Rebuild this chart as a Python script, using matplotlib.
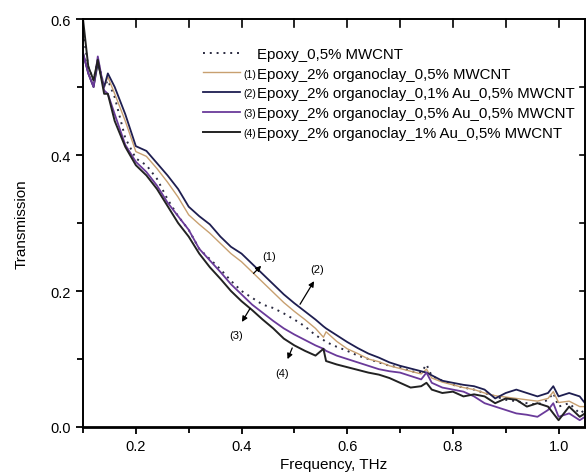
"""Transmission vs frequency for epoxy / organoclay / Au / MWCNT composites."""
import matplotlib

matplotlib.use("Agg")
import matplotlib.pyplot as plt
from matplotlib.ticker import MultipleLocator

plt.rcParams["font.family"] = ["Liberation Sans", "DejaVu Sans"]

# frequency grid (THz)
freq = [0.100, 0.110, 0.120, 0.128, 0.140, 0.147, 0.160, 0.180, 0.200, 0.220,
        0.240, 0.260, 0.280, 0.300, 0.320, 0.340, 0.360, 0.380, 0.400, 0.420,
        0.440, 0.460, 0.480, 0.500, 0.520, 0.540, 0.555, 0.560, 0.580, 0.600,
        0.620, 0.640, 0.660, 0.680, 0.700, 0.720, 0.740, 0.750, 0.760, 0.780,
        0.800, 0.820, 0.840, 0.860, 0.880, 0.900, 0.920, 0.940, 0.960, 0.980,
        0.990, 1.000, 1.020, 1.040, 1.050]

epoxy_mwcnt = [0.580, 0.530, 0.510, 0.540, 0.500, 0.510, 0.485, 0.425, 0.395, 0.385,
               0.365, 0.335, 0.310, 0.290, 0.262, 0.247, 0.232, 0.215, 0.200, 0.190,
               0.180, 0.175, 0.167, 0.158, 0.148, 0.135, 0.128, 0.125, 0.118, 0.112,
               0.105, 0.100, 0.095, 0.090, 0.088, 0.082, 0.080, 0.092, 0.075, 0.068,
               0.062, 0.058, 0.055, 0.050, 0.045, 0.040, 0.038, 0.035, 0.033, 0.040,
               0.050, 0.030, 0.035, 0.020, 0.025]

clay_mwcnt = [0.550, 0.520, 0.500, 0.535, 0.500, 0.515, 0.490, 0.450, 0.405, 0.398,
              0.380, 0.360, 0.338, 0.312, 0.298, 0.285, 0.270, 0.255, 0.243, 0.228,
              0.213, 0.198, 0.183, 0.170, 0.158, 0.145, 0.132, 0.140, 0.126, 0.115,
              0.108, 0.100, 0.096, 0.090, 0.086, 0.082, 0.078, 0.085, 0.072, 0.066,
              0.062, 0.058, 0.055, 0.050, 0.046, 0.044, 0.042, 0.040, 0.038, 0.042,
              0.052, 0.036, 0.038, 0.030, 0.030]

clay_au01 = [0.550, 0.520, 0.500, 0.535, 0.500, 0.520, 0.500, 0.460, 0.413, 0.406,
             0.388, 0.370, 0.350, 0.324, 0.310, 0.298, 0.280, 0.265, 0.255, 0.240,
             0.225, 0.210, 0.195, 0.182, 0.170, 0.158, 0.148, 0.145, 0.135, 0.125,
             0.116, 0.108, 0.102, 0.095, 0.090, 0.086, 0.082, 0.080, 0.076, 0.068,
             0.065, 0.062, 0.060, 0.055, 0.042, 0.050, 0.055, 0.050, 0.045, 0.050,
             0.060, 0.045, 0.050, 0.045, 0.035]

clay_au05 = [0.550, 0.520, 0.500, 0.545, 0.495, 0.490, 0.460, 0.415, 0.390, 0.375,
             0.355, 0.330, 0.310, 0.290, 0.262, 0.245, 0.228, 0.210, 0.195, 0.180,
             0.168, 0.156, 0.145, 0.136, 0.128, 0.120, 0.115, 0.112, 0.105, 0.100,
             0.095, 0.090, 0.085, 0.082, 0.080, 0.075, 0.070, 0.080, 0.065, 0.058,
             0.055, 0.052, 0.045, 0.035, 0.030, 0.025, 0.020, 0.018, 0.015, 0.025,
             0.035, 0.015, 0.020, 0.010, 0.015]

clay_au1 = [0.600, 0.530, 0.510, 0.540, 0.490, 0.490, 0.450, 0.412, 0.385, 0.370,
            0.350, 0.325, 0.300, 0.280, 0.255, 0.235, 0.218, 0.200, 0.185, 0.172,
            0.158, 0.145, 0.130, 0.120, 0.112, 0.105, 0.115, 0.097, 0.092, 0.088,
            0.084, 0.080, 0.077, 0.072, 0.065, 0.058, 0.060, 0.065, 0.055, 0.050,
            0.052, 0.045, 0.048, 0.045, 0.035, 0.042, 0.040, 0.030, 0.035, 0.030,
            0.020, 0.010, 0.030, 0.015, 0.020]

labels = [
    "Epoxy_0,5% MWCNT",
    "Epoxy_2% organoclay_0,5% MWCNT",
    "Epoxy_2% organoclay_0,1% Au_0,5% MWCNT",
    "Epoxy_2% organoclay_0,5% Au_0,5% MWCNT",
    "Epoxy_2% organoclay_1% Au_0,5% MWCNT",
]
tags = ["", "(1)", "(2)", "(3)", "(4)"]

fig = plt.figure(figsize=(5.86, 4.77), dpi=100)
ax = fig.add_axes([83 / 586, 49 / 477, 502 / 586, 408 / 477])

ax.plot(freq, epoxy_mwcnt, color="#2a2a40", lw=1.4, ls=(0, (1, 2.5)), label=labels[0])
ax.plot(freq, clay_mwcnt, color="#c8a070", lw=1.0, label=labels[1])
ax.plot(freq, clay_au01, color="#1e1e50", lw=1.3, label=labels[2])
ax.plot(freq, clay_au05, color="#6a3a9a", lw=1.3, label=labels[3])
ax.plot(freq, clay_au1, color="#222222", lw=1.4, label=labels[4])

# numbered callouts
arrow = dict(arrowstyle="-|>", color="black", lw=0.9, mutation_scale=8)
ax.annotate("", xy=(0.441, 0.240), xytext=(0.419, 0.223), arrowprops=arrow)
ax.annotate("", xy=(0.540, 0.218), xytext=(0.508, 0.177), arrowprops=arrow)
ax.annotate("", xy=(0.398, 0.151), xytext=(0.419, 0.178), arrowprops=arrow)
ax.annotate("", xy=(0.485, 0.096), xytext=(0.498, 0.120), arrowprops=arrow)
for x, y, s in [(0.452, 0.252, "(1)"), (0.543, 0.232, "(2)"),
                (0.390, 0.135, "(3)"), (0.476, 0.080, "(4)")]:
    ax.text(x, y, s, fontsize=8, ha="center", va="center")

ax.set_xlim(0.1, 1.05)
ax.set_ylim(0.0, 0.6)
ax.xaxis.set_minor_locator(MultipleLocator(0.1))
ax.yaxis.set_minor_locator(MultipleLocator(0.1))
ax.set_xticks([0.2, 0.4, 0.6, 0.8, 1.0])
ax.set_yticks([0.0, 0.2, 0.4, 0.6])
ax.tick_params(which="both", direction="out", width=1.3, labelsize=10.5,
               top=False, right=False)
ax.tick_params(which="major", length=5)
ax.tick_params(which="minor", length=4)
for side in ax.spines:
    ax.spines[side].set_linewidth(1.4)
ax.spines["bottom"].set_linewidth(2.0)

# inward ticks on the top and right frame, as in the original
for xt in [0.2, 0.3, 0.4, 0.5, 0.6, 0.7, 0.8, 0.9, 1.0]:
    ax.plot([xt, xt], [0.6, 0.588], color="black", lw=1.2, clip_on=False)
for yt in [0.1, 0.2, 0.3, 0.4, 0.5]:
    ax.plot([1.05, 1.04], [yt, yt], color="black", lw=1.2, clip_on=False)

ax.set_xlabel("Frequency, THz", fontsize=11, labelpad=3)
ax.set_ylabel("Transmission", fontsize=11, labelpad=16)

leg = ax.legend(loc="upper left", bbox_to_anchor=(0.227, 0.946), frameon=False,
                fontsize=10.8, handlelength=2.45, handletextpad=1.15,
                labelspacing=0.38, borderaxespad=0)

# small "(n)" markers between the legend handles and their labels
fig.canvas.draw()
inv = fig.transFigure.inverted()
for t, tag in zip(leg.get_texts(), tags):
    if not tag:
        continue
    bb = t.get_window_extent()
    x, y = inv.transform((bb.x0 - 1, (bb.y0 + bb.y1) / 2))
    fig.text(x, y, tag, fontsize=7.5, ha="right", va="center")

fig.savefig("out.png", dpi=100)
